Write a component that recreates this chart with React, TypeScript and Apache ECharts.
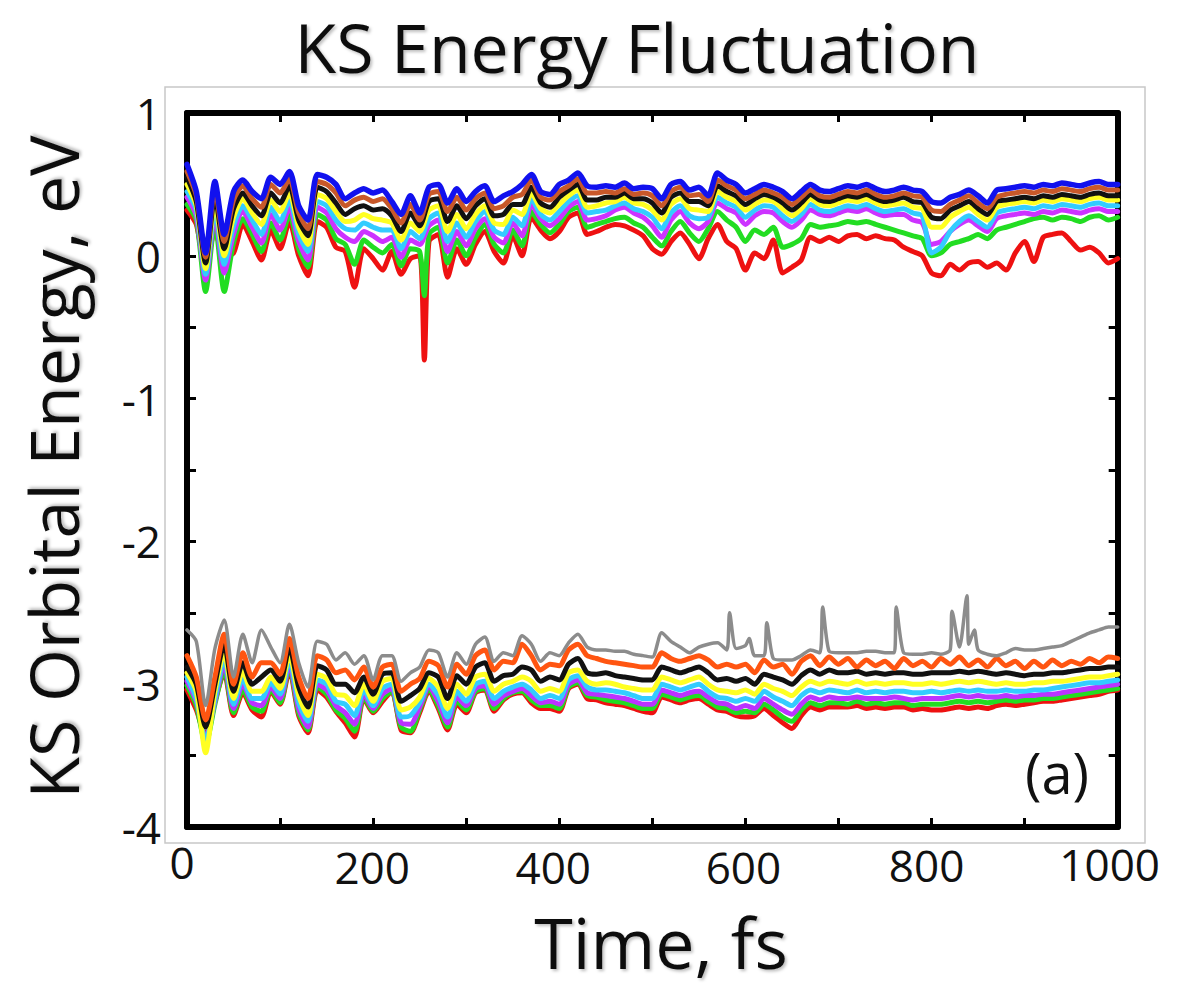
import React, { useEffect, useRef } from "react";
import * as echarts from "echarts";

// ---- time grid (fs) ----
const TIME: number[] = Array.from({ length: 101 }, (_, i) => i * 10);

// ---- upper band (unoccupied states) ----
const UP_BLUE = [
  0.64, 0.45, 0.02, 0.52, 0.15, 0.45, 0.53, 0.45, 0.40, 0.55,
  0.50, 0.59, 0.35, 0.25, 0.57, 0.55, 0.50, 0.40, 0.44, 0.47,
  0.44, 0.46, 0.38, 0.29, 0.42, 0.30, 0.48, 0.50, 0.37, 0.47,
  0.38, 0.45, 0.49, 0.38, 0.42, 0.45, 0.50, 0.57, 0.45, 0.43,
  0.50, 0.53, 0.58, 0.49, 0.48, 0.49, 0.48, 0.51, 0.47, 0.48,
  0.47, 0.40, 0.50, 0.52, 0.46, 0.48, 0.42, 0.58, 0.53, 0.50,
  0.44, 0.47, 0.50, 0.48, 0.45, 0.40, 0.45, 0.50, 0.46, 0.45,
  0.47, 0.49, 0.48, 0.50, 0.47, 0.45, 0.46, 0.48, 0.46, 0.45,
  0.38, 0.37, 0.41, 0.43, 0.46, 0.42, 0.37, 0.46, 0.47, 0.48,
  0.49, 0.48, 0.50, 0.49, 0.51, 0.50, 0.49, 0.51, 0.52, 0.50,
  0.50,
];
const UP_BROWN = [
  0.59, 0.42, -0.01, 0.47, 0.10, 0.39, 0.49, 0.40, 0.34, 0.50,
  0.44, 0.54, 0.30, 0.19, 0.52, 0.50, 0.44, 0.35, 0.39, 0.41,
  0.38, 0.40, 0.33, 0.23, 0.36, 0.25, 0.43, 0.45, 0.31, 0.41,
  0.32, 0.40, 0.44, 0.33, 0.35, 0.41, 0.43, 0.53, 0.41, 0.39,
  0.45, 0.49, 0.54, 0.44, 0.44, 0.45, 0.44, 0.47, 0.43, 0.44,
  0.42, 0.35, 0.45, 0.48, 0.42, 0.43, 0.38, 0.53, 0.49, 0.46,
  0.40, 0.43, 0.46, 0.44, 0.41, 0.36, 0.41, 0.46, 0.42, 0.41,
  0.43, 0.45, 0.44, 0.46, 0.43, 0.41, 0.42, 0.44, 0.42, 0.41,
  0.32, 0.31, 0.36, 0.39, 0.42, 0.37, 0.33, 0.41, 0.43, 0.44,
  0.45, 0.44, 0.46, 0.45, 0.47, 0.46, 0.45, 0.47, 0.48, 0.46,
  0.46,
];
const UP_BLACK = [
  0.55, 0.38, -0.05, 0.42, 0.05, 0.33, 0.44, 0.35, 0.28, 0.44,
  0.37, 0.49, 0.25, 0.14, 0.48, 0.45, 0.37, 0.29, 0.33, 0.35,
  0.32, 0.33, 0.28, 0.17, 0.30, 0.21, 0.38, 0.40, 0.24, 0.35,
  0.26, 0.35, 0.40, 0.28, 0.29, 0.36, 0.36, 0.48, 0.37, 0.34,
  0.41, 0.46, 0.50, 0.39, 0.39, 0.41, 0.41, 0.44, 0.40, 0.40,
  0.37, 0.30, 0.41, 0.44, 0.38, 0.38, 0.35, 0.49, 0.45, 0.42,
  0.36, 0.40, 0.43, 0.41, 0.37, 0.32, 0.37, 0.43, 0.39, 0.38,
  0.40, 0.42, 0.41, 0.43, 0.40, 0.38, 0.39, 0.41, 0.38, 0.37,
  0.27, 0.26, 0.32, 0.35, 0.38, 0.33, 0.29, 0.38, 0.39, 0.40,
  0.41, 0.40, 0.42, 0.41, 0.43, 0.42, 0.41, 0.43, 0.44, 0.42,
  0.42,
];
const UP_YELLOW = [
  0.50, 0.35, -0.09, 0.37, 0.00, 0.27, 0.40, 0.30, 0.22, 0.39,
  0.31, 0.44, 0.20, 0.08, 0.43, 0.40, 0.31, 0.24, 0.25, 0.29,
  0.26, 0.25, 0.23, 0.11, 0.23, 0.17, 0.32, 0.35, 0.17, 0.29,
  0.19, 0.29, 0.35, 0.23, 0.22, 0.32, 0.29, 0.44, 0.33, 0.30,
  0.36, 0.42, 0.46, 0.34, 0.35, 0.37, 0.38, 0.41, 0.37, 0.36,
  0.32, 0.25, 0.36, 0.40, 0.33, 0.32, 0.31, 0.45, 0.41, 0.38,
  0.32, 0.36, 0.39, 0.38, 0.33, 0.28, 0.33, 0.40, 0.36, 0.35,
  0.37, 0.39, 0.38, 0.40, 0.37, 0.35, 0.36, 0.37, 0.34, 0.33,
  0.20, 0.20, 0.27, 0.31, 0.34, 0.29, 0.25, 0.34, 0.36, 0.37,
  0.38, 0.37, 0.39, 0.38, 0.40, 0.39, 0.38, 0.40, 0.41, 0.39,
  0.39,
];
const UP_CYAN = [
  0.45, 0.32, -0.13, 0.32, -0.06, 0.21, 0.35, 0.25, 0.15, 0.34,
  0.24, 0.39, 0.15, 0.03, 0.38, 0.35, 0.25, 0.19, 0.18, 0.23,
  0.20, 0.18, 0.18, 0.05, 0.17, 0.12, 0.26, 0.30, 0.10, 0.23,
  0.13, 0.24, 0.31, 0.18, 0.15, 0.27, 0.21, 0.40, 0.29, 0.25,
  0.31, 0.38, 0.42, 0.30, 0.31, 0.32, 0.35, 0.37, 0.33, 0.31,
  0.27, 0.19, 0.30, 0.35, 0.28, 0.26, 0.27, 0.41, 0.37, 0.34,
  0.27, 0.32, 0.35, 0.34, 0.28, 0.24, 0.29, 0.36, 0.32, 0.31,
  0.33, 0.35, 0.34, 0.36, 0.33, 0.31, 0.32, 0.33, 0.30, 0.28,
  0.02, 0.06, 0.17, 0.24, 0.28, 0.24, 0.20, 0.30, 0.32, 0.33,
  0.34, 0.33, 0.35, 0.34, 0.36, 0.35, 0.34, 0.36, 0.37, 0.35,
  0.35,
];
const UP_MAGENTA = [
  0.41, 0.28, -0.17, 0.28, -0.12, 0.15, 0.31, 0.20, 0.09, 0.29,
  0.18, 0.34, 0.10, -0.03, 0.34, 0.30, 0.19, 0.13, 0.10, 0.17,
  0.14, 0.10, 0.13, -0.01, 0.11, 0.08, 0.21, 0.25, 0.03, 0.17,
  0.07, 0.19, 0.26, 0.13, 0.09, 0.23, 0.14, 0.36, 0.26, 0.21,
  0.26, 0.34, 0.38, 0.25, 0.26, 0.28, 0.32, 0.34, 0.30, 0.27,
  0.21, 0.13, 0.25, 0.31, 0.23, 0.19, 0.24, 0.37, 0.33, 0.30,
  0.22, 0.28, 0.31, 0.30, 0.24, 0.20, 0.25, 0.32, 0.29, 0.28,
  0.30, 0.32, 0.31, 0.33, 0.30, 0.28, 0.29, 0.29, 0.25, 0.23,
  0.08, 0.10, 0.17, 0.22, 0.25, 0.21, 0.17, 0.26, 0.28, 0.29,
  0.30, 0.29, 0.31, 0.30, 0.32, 0.31, 0.30, 0.32, 0.33, 0.31,
  0.31,
];
const UP_GREEN = [
  0.36, 0.25, -0.25, 0.23, -0.25, 0.09, 0.26, 0.15, 0.03, 0.23,
  0.11, 0.29, 0.05, -0.08, 0.29, 0.25, 0.12, 0.08, -0.06, 0.11,
  0.06, 0.02, 0.08, -0.07, 0.05, 0.03, 0.15, 0.20, -0.05, 0.11,
  0.00, 0.13, 0.22, 0.08, 0.02, 0.18, 0.07, 0.31, 0.22, 0.16,
  0.22, 0.31, 0.34, 0.20, 0.22, 0.24, 0.26, 0.27, 0.23, 0.20,
  0.13, 0.07, 0.17, 0.24, 0.16, 0.10, 0.19, 0.31, 0.25, 0.20,
  0.10, 0.18, 0.15, 0.20, 0.06, 0.08, 0.12, 0.22, 0.20, 0.21,
  0.22, 0.24, 0.23, 0.24, 0.22, 0.20, 0.18, 0.16, 0.14, 0.12,
  0.00, 0.02, 0.08, 0.10, 0.12, 0.15, 0.12, 0.18, 0.20, 0.22,
  0.24, 0.26, 0.27, 0.25, 0.27, 0.26, 0.24, 0.27, 0.28, 0.25,
  0.27,
];
const UP_RED = [
  0.32, 0.22, -0.10, 0.18, 0.00, 0.02, 0.22, 0.10, -0.03, 0.18,
  0.05, 0.24, 0.00, -0.14, 0.24, 0.20, 0.06, 0.03, -0.22, 0.05,
  -0.02, -0.10, 0.03, -0.13, -0.02, 0.00, 0.10, 0.15, -0.15, 0.05,
  -0.06, 0.08, 0.17, 0.03, -0.05, 0.14, 0.00, 0.27, 0.18, 0.12,
  0.17, 0.27, 0.30, 0.15, 0.17, 0.20, 0.22, 0.21, 0.18, 0.14,
  0.05, 0.01, 0.10, 0.16, 0.08, -0.02, 0.12, 0.22, 0.10, 0.05,
  -0.10, 0.02, -0.02, 0.11, -0.12, -0.08, -0.03, 0.13, 0.10, 0.13,
  0.10, 0.14, 0.15, 0.12, 0.14, 0.12, 0.11, 0.06, 0.03, 0.00,
  -0.12, -0.14, -0.06, -0.10, -0.05, -0.04, -0.08, -0.05, -0.10, 0.02,
  0.10, -0.04, 0.13, 0.15, 0.16, 0.10, 0.04, 0.06, 0.02, -0.05,
  -0.02,
];
const UP_RED_SPIKES: [number, number][] = [[255, -0.73]];
const UP_GREEN_SPIKES: [number, number][] = [[255, -0.28]];

// ---- lower band (occupied states) ----
const LO_GRAY = [
  -2.62, -2.70, -3.15, -2.75, -2.55, -2.95, -2.65, -2.85, -2.62, -2.74,
  -2.85, -2.58, -2.85, -3.02, -2.70, -2.72, -2.83, -2.78, -2.86, -2.80,
  -2.97, -2.80, -2.80, -2.98, -2.92, -2.88, -2.76, -2.78, -2.95, -2.78,
  -2.86, -2.72, -2.67, -2.84, -2.78, -2.80, -2.66, -2.72, -2.84, -2.78,
  -2.80, -2.71, -2.65, -2.74, -2.76, -2.76, -2.77, -2.77, -2.79, -2.80,
  -2.81, -2.64, -2.70, -2.74, -2.78, -2.74, -2.72, -2.71, -2.76, -2.75,
  -2.73, -2.80, -2.80, -2.82, -2.83, -2.83, -2.80, -2.76, -2.78, -2.77,
  -2.78, -2.78, -2.78, -2.77, -2.77, -2.78, -2.78, -2.78, -2.79, -2.79,
  -2.78, -2.79, -2.76, -2.74, -2.72, -2.76, -2.79, -2.80, -2.78, -2.75,
  -2.76, -2.76, -2.75, -2.74, -2.73, -2.70, -2.67, -2.64, -2.62, -2.60,
  -2.60,
];
const LO_GRAY_SPIKES: [number, number][] = [
  [583, -2.5], [604, -2.68], [623, -2.57], [683, -2.46],
  [762, -2.46], [822, -2.49], [838, -2.38], [846, -2.62],
];
const LO_ORANGE = [
  -2.80, -2.95, -3.25, -2.95, -2.65, -3.00, -2.78, -2.95, -2.85, -2.85,
  -2.93, -2.68, -2.95, -3.10, -2.80, -2.83, -2.92, -2.90, -2.97, -2.88,
  -3.02, -2.88, -2.86, -3.05, -3.00, -2.96, -2.84, -2.87, -3.02, -2.86,
  -2.93, -2.80, -2.76, -2.90, -2.84, -2.85, -2.72, -2.80, -2.90, -2.86,
  -2.87, -2.76, -2.72, -2.80, -2.82, -2.84, -2.85, -2.86, -2.87, -2.88,
  -2.88, -2.78, -2.82, -2.84, -2.82, -2.80, -2.83, -2.88, -2.86, -2.88,
  -2.86, -2.92, -2.83, -2.88, -2.86, -2.93, -2.84, -2.80, -2.87, -2.81,
  -2.86, -2.82, -2.88, -2.83, -2.87, -2.84, -2.89, -2.82, -2.87, -2.84,
  -2.88, -2.82, -2.86, -2.81, -2.87, -2.83, -2.88, -2.82, -2.87, -2.84,
  -2.89, -2.84, -2.88, -2.83, -2.87, -2.84, -2.86, -2.82, -2.85, -2.81,
  -2.82,
];
const LO_BLACK = [
  -2.88, -3.00, -3.30, -3.00, -2.72, -3.05, -2.85, -3.00, -2.95, -2.90,
  -2.98, -2.74, -3.02, -3.16, -2.87, -2.90, -3.00, -3.00, -3.06, -2.95,
  -3.07, -2.93, -2.92, -3.12, -3.08, -3.03, -2.92, -2.95, -3.10, -2.94,
  -3.00, -2.88, -2.85, -2.98, -2.94, -2.93, -2.88, -2.90, -2.98, -2.95,
  -2.97, -2.86, -2.82, -2.92, -2.93, -2.92, -2.94, -2.95, -2.96, -2.97,
  -2.97, -2.88, -2.90, -2.92, -2.90, -2.88, -2.92, -2.97, -2.96, -2.98,
  -2.96, -3.00, -2.93, -2.95, -2.97, -3.00, -2.94, -2.90, -2.93, -2.90,
  -2.92, -2.92, -2.91, -2.93, -2.92, -2.93, -2.92, -2.92, -2.93, -2.93,
  -2.92, -2.92, -2.92, -2.91, -2.92, -2.91, -2.92, -2.93, -2.92, -2.93,
  -2.94, -2.93, -2.93, -2.92, -2.92, -2.91, -2.90, -2.89, -2.89, -2.88,
  -2.88,
];
const LO_YELLOW = [
  -2.92, -3.05, -3.48, -3.05, -2.78, -3.10, -2.91, -3.05, -3.05, -2.95,
  -3.03, -2.79, -3.08, -3.22, -2.93, -2.96, -3.07, -3.08, -3.15, -3.00,
  -3.12, -2.98, -2.96, -3.18, -3.16, -3.09, -2.96, -3.02, -3.17, -3.00,
  -3.07, -2.95, -2.93, -3.05, -3.00, -2.98, -2.95, -2.98, -3.05, -3.03,
  -3.05, -2.92, -2.90, -2.98, -3.00, -2.99, -3.00, -3.02, -3.03, -3.04,
  -3.04, -2.95, -2.97, -2.99, -2.97, -2.95, -3.00, -3.04, -3.05, -3.06,
  -3.04, -3.07, -3.00, -3.03, -3.05, -3.08, -3.02, -2.98, -3.00, -2.98,
  -2.99, -3.00, -2.98, -3.00, -2.99, -3.00, -2.99, -2.99, -3.00, -3.00,
  -2.99, -3.00, -2.99, -2.98, -2.99, -2.98, -2.99, -3.00, -2.99, -3.00,
  -3.00, -2.99, -2.99, -2.98, -2.98, -2.97, -2.96, -2.95, -2.95, -2.94,
  -2.93,
];
const LO_CYAN = [
  -2.95, -3.10, -3.40, -3.10, -2.82, -3.14, -2.96, -3.10, -3.10, -2.99,
  -3.07, -2.83, -3.13, -3.26, -2.97, -3.00, -3.12, -3.14, -3.22, -3.04,
  -3.15, -3.03, -3.00, -3.23, -3.22, -3.13, -3.00, -3.08, -3.23, -3.05,
  -3.12, -3.00, -2.98, -3.10, -3.05, -3.02, -3.00, -3.04, -3.10, -3.08,
  -3.10, -2.97, -2.94, -3.02, -3.04, -3.04, -3.05, -3.06, -3.08, -3.10,
  -3.10, -3.00, -3.02, -3.04, -3.02, -3.00, -3.05, -3.09, -3.10, -3.12,
  -3.10, -3.12, -3.05, -3.09, -3.12, -3.15, -3.08, -3.04, -3.06, -3.04,
  -3.05, -3.06, -3.04, -3.06, -3.05, -3.06, -3.05, -3.05, -3.06, -3.06,
  -3.05, -3.06, -3.05, -3.04, -3.05, -3.04, -3.05, -3.05, -3.04, -3.05,
  -3.05, -3.04, -3.04, -3.03, -3.02, -3.01, -3.00, -2.99, -2.99, -2.98,
  -2.97,
];
const LO_MAGENTA = [
  -2.98, -3.12, -3.38, -3.12, -2.86, -3.17, -3.00, -3.13, -3.15, -3.02,
  -3.10, -2.86, -3.17, -3.30, -3.00, -3.04, -3.15, -3.20, -3.28, -3.07,
  -3.17, -3.07, -3.03, -3.27, -3.28, -3.16, -3.02, -3.12, -3.27, -3.09,
  -3.15, -3.03, -3.01, -3.14, -3.08, -3.05, -3.03, -3.08, -3.13, -3.12,
  -3.14, -3.00, -2.97, -3.06, -3.07, -3.08, -3.09, -3.10, -3.12, -3.14,
  -3.14, -3.04, -3.06, -3.08, -3.06, -3.05, -3.09, -3.13, -3.14, -3.17,
  -3.15, -3.17, -3.10, -3.14, -3.18, -3.21, -3.14, -3.09, -3.11, -3.09,
  -3.10, -3.10, -3.09, -3.10, -3.10, -3.10, -3.09, -3.10, -3.11, -3.10,
  -3.10, -3.10, -3.09, -3.08, -3.09, -3.08, -3.09, -3.09, -3.08, -3.09,
  -3.08, -3.08, -3.07, -3.07, -3.06, -3.05, -3.04, -3.03, -3.02, -3.01,
  -3.00,
];
const LO_GREEN = [
  -3.01, -3.15, -3.42, -3.14, -2.90, -3.20, -3.04, -3.16, -3.19, -3.04,
  -3.13, -2.88, -3.20, -3.32, -3.02, -3.07, -3.18, -3.24, -3.33, -3.09,
  -3.19, -3.10, -3.05, -3.30, -3.33, -3.18, -3.04, -3.15, -3.30, -3.12,
  -3.18, -3.05, -3.03, -3.17, -3.10, -3.06, -3.05, -3.11, -3.15, -3.15,
  -3.17, -3.02, -2.99, -3.08, -3.09, -3.11, -3.12, -3.13, -3.15, -3.17,
  -3.17, -3.07, -3.09, -3.11, -3.09, -3.08, -3.12, -3.16, -3.17, -3.20,
  -3.19, -3.20, -3.14, -3.18, -3.23, -3.26, -3.18, -3.13, -3.15, -3.13,
  -3.13, -3.14, -3.12, -3.14, -3.13, -3.14, -3.13, -3.13, -3.15, -3.14,
  -3.14, -3.14, -3.13, -3.12, -3.13, -3.12, -3.13, -3.12, -3.11, -3.12,
  -3.11, -3.11, -3.10, -3.10, -3.09, -3.08, -3.07, -3.06, -3.05, -3.04,
  -3.03,
];
const LO_RED = [
  -3.04, -3.18, -3.36, -3.12, -2.92, -3.22, -3.06, -3.18, -3.23, -3.05,
  -3.14, -2.90, -3.22, -3.34, -3.04, -3.09, -3.19, -3.27, -3.37, -3.10,
  -3.20, -3.12, -3.05, -3.32, -3.34, -3.20, -3.05, -3.17, -3.32, -3.14,
  -3.20, -3.06, -3.04, -3.19, -3.11, -3.07, -3.06, -3.13, -3.17, -3.17,
  -3.19, -3.03, -3.00, -3.10, -3.11, -3.13, -3.14, -3.15, -3.17, -3.19,
  -3.20, -3.09, -3.11, -3.13, -3.11, -3.10, -3.14, -3.18, -3.19, -3.22,
  -3.23, -3.22, -3.17, -3.22, -3.27, -3.31, -3.22, -3.16, -3.18, -3.16,
  -3.16, -3.16, -3.15, -3.17, -3.16, -3.17, -3.16, -3.16, -3.18, -3.17,
  -3.18, -3.18, -3.17, -3.16, -3.17, -3.16, -3.17, -3.15, -3.14, -3.15,
  -3.14, -3.13, -3.12, -3.12, -3.11, -3.10, -3.09, -3.08, -3.07, -3.05,
  -3.04,
];

const X_LABELS = [0, 200, 400, 600, 800, 1000];

function toPairs(values: number[], spikes: [number, number][] = []) {
  const pts: [number, number][] = values.map((v, i) => [TIME[i], v]);
  spikes.forEach((s) => pts.push(s));
  pts.sort((a, b) => a[0] - b[0]);
  return pts;
}

const FONT = "Open Sans";

export default function App() {
  const ref = useRef<HTMLDivElement>(null);
  useEffect(() => {
    document.body.style.margin = "0";
    if (!ref.current) return;
    const chart = echarts.init(ref.current, null, { renderer: "svg" });

    const mk = (name: string, values: number[], color: string, width = 5, spikes: [number, number][] = []) => ({
      name,
      type: "line",
      data: toPairs(values, spikes),
      showSymbol: false,
      symbol: "none",
      silent: true,
      smooth: 0.25,
      lineStyle: { color, width, join: "round", cap: "round" },
      itemStyle: { color },
    });

    const axisLine = { show: true, onZero: false, lineStyle: { color: "#000", width: 6 } };
    const axisTick = { show: true, inside: true, length: 9, lineStyle: { color: "#000", width: 3 } };

    const xRich: Record<string, any> = {
      x0: { padding: [0, 10, 0, 0] },
      x200: { padding: [9, 2, 0, 0] },
      x400: { padding: [10, 12, 0, 0] },
      x600: { padding: [9, 4, 0, 0] },
      x800: { padding: [5, 10, 0, 0] },
      x1000: { padding: [4, 16, 0, 0] },
    };
    Object.keys(xRich).forEach((k) => {
      xRich[k] = { ...xRich[k], fontSize: 44, lineHeight: 44, fontFamily: FONT, color: "#111" };
    });

    const shadow = {
      textShadowColor: "rgba(0,0,0,0.25)", textShadowBlur: 3, textShadowOffsetX: 2, textShadowOffsetY: 2,
    };

    const option: any = {
      animation: false,
      backgroundColor: "#fff",
      grid: { left: 187, right: 49, top: 113, bottom: 162, containLabel: false },
      xAxis: [
        {
          type: "value", min: 0, max: 1000, interval: 100, position: "bottom",
          axisLine, axisTick, splitLine: { show: false },
          axisLabel: {
            show: true, margin: 13, fontSize: 44, lineHeight: 44, fontFamily: FONT, color: "#111",
            formatter: (v: number) => (X_LABELS.includes(v) ? `{x${v}|${v}}` : ""),
            rich: xRich,
          },
        },
        {
          type: "value", min: 0, max: 1000, interval: 100, position: "top",
          axisLine, axisTick, splitLine: { show: false }, axisLabel: { show: false },
        },
      ],
      yAxis: [
        {
          type: "value", min: -4, max: 1, interval: 0.5, position: "left",
          axisLine, axisTick, splitLine: { show: false },
          axisLabel: {
            margin: 26, fontSize: 44, fontFamily: FONT, color: "#111",
            formatter: (v: number) => (Math.abs(v - Math.round(v)) < 1e-9 ? String(Math.round(v)) : ""),
          },
        },
        {
          type: "value", min: -4, max: 1, interval: 0.5, position: "right",
          axisLine, axisTick, splitLine: { show: false }, axisLabel: { show: false },
        },
      ],
      series: [
        // upper band, bottom to top
        mk("up-red", UP_RED, "#ee1111", 5, UP_RED_SPIKES),
        mk("up-green", UP_GREEN, "#22dd22", 5, UP_GREEN_SPIKES),
        mk("up-magenta", UP_MAGENTA, "#cc33ff", 5),
        mk("up-cyan", UP_CYAN, "#33ccff", 5),
        mk("up-yellow", UP_YELLOW, "#ffff22", 5),
        mk("up-black", UP_BLACK, "#111111", 5),
        mk("up-brown", UP_BROWN, "#c8582a", 5),
        mk("up-blue", UP_BLUE, "#1111ee", 5.5),
        // lower band, bottom to top
        mk("lo-red", LO_RED, "#ee1111", 5),
        mk("lo-green", LO_GREEN, "#22dd22", 5),
        mk("lo-magenta", LO_MAGENTA, "#bb33ff", 5),
        mk("lo-cyan", LO_CYAN, "#33ccff", 5),
        mk("lo-yellow", LO_YELLOW, "#ffff22", 5),
        mk("lo-black", LO_BLACK, "#111111", 5),
        mk("lo-orange", LO_ORANGE, "#ff5511", 5),
        mk("lo-gray", LO_GRAY, "#8c8c8c", 3.5, LO_GRAY_SPIKES),
      ],
      graphic: [
        {
          type: "rect", z: -1, silent: true,
          shape: { x: 165, y: 87, width: 980, height: 756 },
          style: { fill: "none", stroke: "#c8c8c8", lineWidth: 1.5 },
        },
        {
          type: "text", x: 637, y: 46, silent: true,
          style: {
            text: "KS Energy Fluctuation", fontSize: 68, lineHeight: 68, fontFamily: FONT, fill: "#111",
            textAlign: "center", textVerticalAlign: "middle", ...shadow,
          },
        },
        {
          type: "text", x: 52, y: 467, rotation: Math.PI / 2, silent: true,
          style: {
            text: "KS Orbital Energy, eV", fontSize: 68, lineHeight: 68, fontFamily: FONT, fill: "#111",
            textAlign: "center", textVerticalAlign: "middle", ...shadow,
          },
        },
        {
          type: "text", x: 661, y: 942, silent: true,
          style: {
            text: "Time, fs", fontSize: 70, lineHeight: 60, fontFamily: FONT, fill: "#111",
            textAlign: "center", textVerticalAlign: "middle", ...shadow,
          },
        },
        {
          type: "text", x: 1057, y: 772, silent: true,
          style: {
            text: "(a)", fontSize: 56, lineHeight: 56, fontFamily: FONT, fill: "#111",
            textAlign: "center", textVerticalAlign: "middle",
          },
        },
      ],
    };
    chart.setOption(option);
    return () => chart.dispose();
  }, []);
  return <div ref={ref} style={{ width: 1179, height: 989 }} />;
}
